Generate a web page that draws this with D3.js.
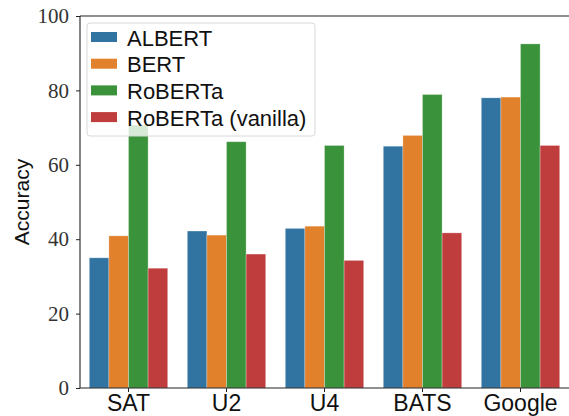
<!DOCTYPE html>
<html>
<head>
<meta charset="utf-8">
<script src="https://cdn.jsdelivr.net/npm/d3@7"></script>
<style>
  body { margin: 0; background: #fff; }
</style>
</head>
<body>
<script>
var categories = ["SAT", "U2", "U4", "BATS", "Google"];
var models = ["ALBERT", "BERT", "RoBERTa", "RoBERTa (vanilla)"];
var colors = ["#3274a1", "#e1812c", "#3a923a", "#c03d3e"];

var albert = [35.0, 42.2, 42.9, 65.0, 78.0];
var bert = [40.9, 41.1, 43.5, 67.9, 78.2];
var roberta = [70.7, 66.2, 65.2, 78.9, 92.5];
var vanilla = [32.2, 36.0, 34.3, 41.7, 65.2];
var yTicks = [0, 20, 40, 60, 80, 100];

var series = [albert, bert, roberta, vanilla];

var w = 569, h = 416;
var margin = {left: 80, right: 0, top: 16, bottom: 28};
var sans = "'Liberation Sans', Arial, Helvetica, sans-serif";
var serif = "'Liberation Serif', 'Times New Roman', serif";

var svg = d3.select("body").append("svg")
    .attr("width", w).attr("height", h);

var x = d3.scaleBand()
    .domain(categories)
    .range([margin.left - 0.5, w + 0.5])
    .paddingInner(0.2)
    .paddingOuter(0.1);

var xSub = d3.scaleBand()
    .domain(models)
    .range([0, x.bandwidth()]);

var y = d3.scaleLinear()
    .domain([0, 100])
    .range([h - margin.bottom, margin.top]);

// bars, one group per model
models.forEach(function (m, j) {
    svg.append("g")
        .selectAll("rect")
        .data(categories)
        .enter()
        .append("rect")
        .attr("x", function (c) { return x(c) + xSub(m); })
        .attr("width", xSub.bandwidth())
        .attr("y", function (c, i) { return y(series[j][i]); })
        .attr("height", function (c, i) { return y(0) - y(series[j][i]); })
        .attr("fill", colors[j])
        .attr("stroke", "#ffffff")
        .attr("stroke-opacity", 0.35)
        .attr("stroke-width", 0.8);
});

// axes
var yAxis = svg.append("g")
    .attr("transform", "translate(" + margin.left + ",0)")
    .call(d3.axisLeft(y).tickValues(yTicks).tickSize(4).tickPadding(7));
yAxis.select(".domain").remove();
yAxis.attr("font-family", serif).attr("font-size", 21);
yAxis.selectAll("text")
    .style("font-family", serif)
    .style("font-size", "21px")
    .attr("fill", "#333");

var xAxis = svg.append("g")
    .attr("transform", "translate(0," + y(0) + ")")
    .call(d3.axisBottom(x).tickSize(4).tickPadding(3));
xAxis.select(".domain").remove();
xAxis.selectAll("text")
    .style("font-family", sans)
    .style("font-size", "23px")
    .attr("fill", "#111");

svg.selectAll(".tick line").attr("stroke", "#222").attr("stroke-width", 1);

// spines
svg.append("line")
    .attr("x1", margin.left).attr("x2", margin.left)
    .attr("y1", margin.top).attr("y2", y(0))
    .attr("stroke", "#222").attr("stroke-width", 1.1);
svg.append("line")
    .attr("x1", margin.left).attr("x2", w)
    .attr("y1", y(0)).attr("y2", y(0))
    .attr("stroke", "#222").attr("stroke-width", 1.1);
svg.append("line")
    .attr("x1", margin.left).attr("x2", w)
    .attr("y1", margin.top).attr("y2", margin.top)
    .attr("stroke", "#222").attr("stroke-width", 1.1);

// y label
svg.append("text")
    .attr("transform", "translate(29," + ((margin.top + y(0)) / 2) + ") rotate(-90)")
    .attr("text-anchor", "middle")
    .style("font-family", sans)
    .style("font-size", "21px")
    .attr("fill", "#111")
    .text("Accuracy");

// legend
var legend = svg.append("g").attr("transform", "translate(87,23)");
legend.append("rect")
    .attr("width", 228).attr("height", 113)
    .attr("rx", 3)
    .attr("fill", "#ffffff").attr("fill-opacity", 0.8)
    .attr("stroke", "#d8d8d8").attr("stroke-width", 1);

var items = legend.selectAll(".item")
    .data(models)
    .enter()
    .append("g")
    .attr("transform", function (d, i) { return "translate(4," + (14 + i * 26.7) + ")"; });
items.append("rect")
    .attr("x", 0).attr("y", -5)
    .attr("width", 26).attr("height", 10)
    .attr("fill", function (d, i) { return colors[i]; });
items.append("text")
    .attr("x", 36).attr("y", 1)
    .attr("dy", "0.35em")
    .style("font-family", sans)
    .style("font-size", "22px")
    .attr("fill", "#111")
    .text(function (d) { return d; });
</script>
</body>
</html>
